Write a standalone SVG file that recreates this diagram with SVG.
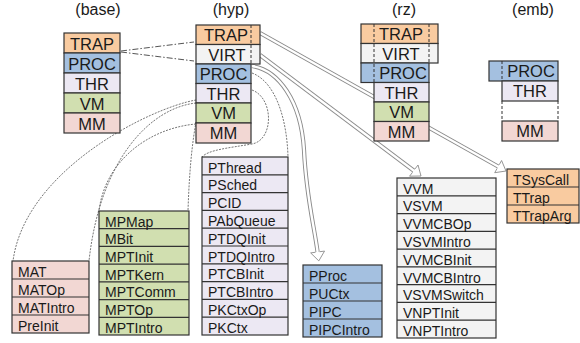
<svg xmlns="http://www.w3.org/2000/svg" width="580" height="343" viewBox="0 0 580 343">
  <style>
    text { font-family: "Liberation Sans", Arial, sans-serif; fill: #1a1a1a; }
    .title { font-size: 16px; text-anchor: middle; }
    .lbl { font-size: 16.5px; text-anchor: middle; }
    .item { font-size: 14px; }
    .box { stroke: #333; stroke-width: 1.2; }
    .sep { stroke: #333; stroke-width: 1.2; }
    .dash { stroke: #333; stroke-width: 1; stroke-dasharray: 3 2; fill: none; }
    .trap { fill: #f9cba0; }
    .virt { fill: #f3f3f3; }
    .proc { fill: #a4c0e0; }
    .thr  { fill: #ece8f3; }
    .vm   { fill: #d1dfb0; }
    .mm   { fill: #f2d7d3; }
    .dot { fill: none; stroke: #666; stroke-width: 0.9; stroke-dasharray: 2 1.2; }
    .dashdot { fill: none; stroke: #555; stroke-width: 1; stroke-dasharray: 6 2 1.5 2; }
    .shaft-o { fill: none; stroke: #8a8a8a; stroke-width: 4.2; }
    .shaft-i { fill: none; stroke: #fff; stroke-width: 2.4; }
    .head { fill: #fff; stroke: #8a8a8a; stroke-width: 0.9; }
  </style>

  <!-- column titles -->
  <text class="title" x="98" y="15">(base)</text>
  <text class="title" x="231" y="15">(hyp)</text>
  <text class="title" x="404" y="15">(rz)</text>
  <text class="title" x="533" y="15">(emb)</text>

  <!-- connectors -->
  <g id="connectors">
    <!-- base TRAP to hyp TRAP/VIRT -->
    <path class="dashdot" d="M121,51 L194,42"/>
    <path class="dashdot" d="M121,52 L194,61"/>

    <!-- zoom-out curves from hyp to expanded lists -->
    <path class="dot" d="M196,100 C150,108 25,170 13,261"/>
    <path class="dot" d="M196,103 C150,108 100,160 89,261"/>
    <path class="dot" d="M196,124 C150,128 105,160 99,211"/>
    <path class="dot" d="M196,122 C191,150 189,180 188,211"/>
    <path class="dot" d="M252,73 C276,82 287,120 288,157"/>
    <path class="dot" d="M252,90 C274,98 274,140 252,144 C228,148 208,150 202,157"/>

    <!-- hollow block arrows -->
    <path class="shaft-o" d="M260,33 L499,167"/>
    <path class="shaft-i" d="M260,33 L499,167"/>
    <polyline class="head" points="497.12,168.43 494.73,172.70 506,171 501.57,160.50 499.18,164.77"/>

    <path class="shaft-o" d="M260,55 L414.6,171.2"/>
    <path class="shaft-i" d="M260,55 L414.6,171.2"/>
    <polyline class="head" points="412.54,172.28 409.59,176.19 421,176 418.01,165.01 415.06,168.92"/>

    <path class="shaft-o" d="M252,66 C278,70 301,100 304,150 C306,195 314,225 317.6,252"/>
    <path class="shaft-i" d="M252,66 C278,70 301,100 304,150 C306,195 314,225 317.6,252"/>
    <polyline class="head" points="315.52,252.28 310.66,252.92 318.8,260.9 324.54,251.08 319.68,251.72"/>
  </g>

  <!-- base stack -->
  <g id="base">
    <rect class="box trap" x="64" y="33" width="56" height="20"/>
    <rect class="box proc" x="64" y="53" width="56" height="20"/>
    <rect class="box thr" x="64" y="73" width="56" height="20"/>
    <rect class="box vm" x="64" y="93" width="56" height="20"/>
    <rect class="box mm" x="64" y="113" width="56" height="20"/>
    <text class="lbl" x="92" y="49.5">TRAP</text>
    <text class="lbl" x="92" y="69.5">PROC</text>
    <text class="lbl" x="92" y="89.5">THR</text>
    <text class="lbl" x="92" y="109.5">VM</text>
    <text class="lbl" x="92" y="129.5">MM</text>
  </g>

  <!-- hyp stack -->
  <g id="hyp">
    <rect class="box trap" x="196" y="25" width="64" height="19.5"/>
    <rect class="box virt" x="196" y="44.5" width="64" height="19.5"/>
    <rect class="box proc" x="196" y="64" width="55" height="19.5"/>
    <rect class="box thr" x="196" y="83.5" width="55" height="19.5"/>
    <rect class="box vm" x="196" y="103" width="55" height="20"/>
    <rect class="box mm" x="196" y="123" width="55" height="20"/>
    <path class="dash" d="M251,25 V64"/>
    <text class="lbl" x="226" y="41">TRAP</text>
    <text class="lbl" x="227" y="60.5">VIRT</text>
    <text class="lbl" x="223.5" y="80">PROC</text>
    <text class="lbl" x="223.5" y="99.5">THR</text>
    <text class="lbl" x="223.5" y="119">VM</text>
    <text class="lbl" x="223.5" y="139">MM</text>
  </g>

  <!-- rz stack -->
  <g id="rz">
    <rect class="box trap" x="361" y="24" width="77" height="19.5"/>
    <rect class="box virt" x="361" y="43.5" width="77" height="19.5"/>
    <rect class="box proc" x="361" y="63" width="68" height="19.5"/>
    <rect class="box thr" x="374" y="82.5" width="55" height="19.5"/>
    <rect class="box vm" x="374" y="102" width="55" height="19.5"/>
    <rect class="box mm" x="374" y="121.5" width="55" height="19.5"/>
    <path class="dash" d="M374,24 V82.5 M429,24 V63"/>
    <text class="lbl" x="401" y="40">TRAP</text>
    <text class="lbl" x="401" y="59.5">VIRT</text>
    <text class="lbl" x="403" y="79">PROC</text>
    <text class="lbl" x="401.5" y="98.5">THR</text>
    <text class="lbl" x="401.5" y="118">VM</text>
    <text class="lbl" x="401.5" y="137.5">MM</text>
  </g>

  <!-- emb stack -->
  <g id="emb">
    <rect class="box proc" x="489" y="61" width="69" height="20"/>
    <rect class="box thr" x="502" y="81" width="56" height="20"/>
    <rect class="box mm" x="502" y="121" width="56" height="20"/>
    <path class="dash" d="M502,61 V81 M502,101 V121 M558,101 V121"/>
    <text class="lbl" x="531" y="77">PROC</text>
    <text class="lbl" x="530" y="97">THR</text>
    <text class="lbl" x="530" y="137">MM</text>
  </g>

  <!-- MM expansion -->
  <g id="mm-list">
    <rect class="box mm" x="12" y="261" width="77" height="72"/>
    <path class="sep" d="M12,279 H89 M12,297 H89 M12,315 H89"/>
    <text class="item" x="18" y="276.5">MAT</text>
    <text class="item" x="18" y="294.5">MATOp</text>
    <text class="item" x="18" y="312.5">MATIntro</text>
    <text class="item" x="18" y="330.5">PreInit</text>
  </g>

  <!-- VM expansion -->
  <g id="vm-list">
    <rect class="box vm" x="99" y="211" width="90" height="124"/>
    <path class="sep" d="M99,228.7 H189 M99,246.4 H189 M99,264.1 H189 M99,281.9 H189 M99,299.6 H189 M99,317.3 H189"/>
    <text class="item" x="105" y="226.5">MPMap</text>
    <text class="item" x="105" y="244.2">MBit</text>
    <text class="item" x="105" y="261.9">MPTInit</text>
    <text class="item" x="105" y="279.6">MPTKern</text>
    <text class="item" x="105" y="297.4">MPTComm</text>
    <text class="item" x="105" y="315.1">MPTOp</text>
    <text class="item" x="105" y="332.8">MPTIntro</text>
  </g>

  <!-- THR expansion -->
  <g id="thr-list">
    <rect class="box thr" x="202" y="157" width="86" height="178"/>
    <path class="sep" d="M202,174.8 H288 M202,192.6 H288 M202,210.4 H288 M202,228.2 H288 M202,246 H288 M202,263.8 H288 M202,281.6 H288 M202,299.4 H288 M202,317.2 H288"/>
    <text class="item" x="208" y="172.5">PThread</text>
    <text class="item" x="208" y="190.3">PSched</text>
    <text class="item" x="208" y="208.1">PCID</text>
    <text class="item" x="208" y="225.9">PAbQueue</text>
    <text class="item" x="208" y="243.7">PTDQInit</text>
    <text class="item" x="208" y="261.5">PTDQIntro</text>
    <text class="item" x="208" y="279.3">PTCBInit</text>
    <text class="item" x="208" y="297.1">PTCBIntro</text>
    <text class="item" x="208" y="314.9">PKCtxOp</text>
    <text class="item" x="208" y="332.7">PKCtx</text>
  </g>

  <!-- PROC expansion -->
  <g id="proc-list">
    <rect class="box proc" x="303" y="265" width="79" height="72"/>
    <path class="sep" d="M303,283 H382 M303,301 H382 M303,319 H382"/>
    <text class="item" x="309" y="280.5">PProc</text>
    <text class="item" x="309" y="298.5">PUCtx</text>
    <text class="item" x="309" y="316.5">PIPC</text>
    <text class="item" x="309" y="334.5">PIPCIntro</text>
  </g>

  <!-- VIRT expansion -->
  <g id="virt-list">
    <rect class="box virt" x="397" y="178" width="99" height="160"/>
    <path class="sep" d="M397,195.8 H496 M397,213.6 H496 M397,231.3 H496 M397,249.1 H496 M397,266.9 H496 M397,284.7 H496 M397,302.4 H496 M397,320.2 H496"/>
    <text class="item" x="403" y="193.5">VVM</text>
    <text class="item" x="403" y="211.3">VSVM</text>
    <text class="item" x="403" y="229.1">VVMCBOp</text>
    <text class="item" x="403" y="246.9">VSVMIntro</text>
    <text class="item" x="403" y="264.7">VVMCBInit</text>
    <text class="item" x="403" y="282.5">VVMCBIntro</text>
    <text class="item" x="403" y="300.3">VSVMSwitch</text>
    <text class="item" x="403" y="318.1">VNPTInit</text>
    <text class="item" x="403" y="335.9">VNPTIntro</text>
  </g>

  <!-- TRAP expansion -->
  <g id="trap-list">
    <rect class="box trap" x="507" y="169" width="72" height="54"/>
    <path class="sep" d="M507,187 H579 M507,205 H579"/>
    <text class="item" x="513" y="184.5">TSysCall</text>
    <text class="item" x="513" y="202.5">TTrap</text>
    <text class="item" x="513" y="220.5">TTrapArg</text>
  </g>
</svg>
